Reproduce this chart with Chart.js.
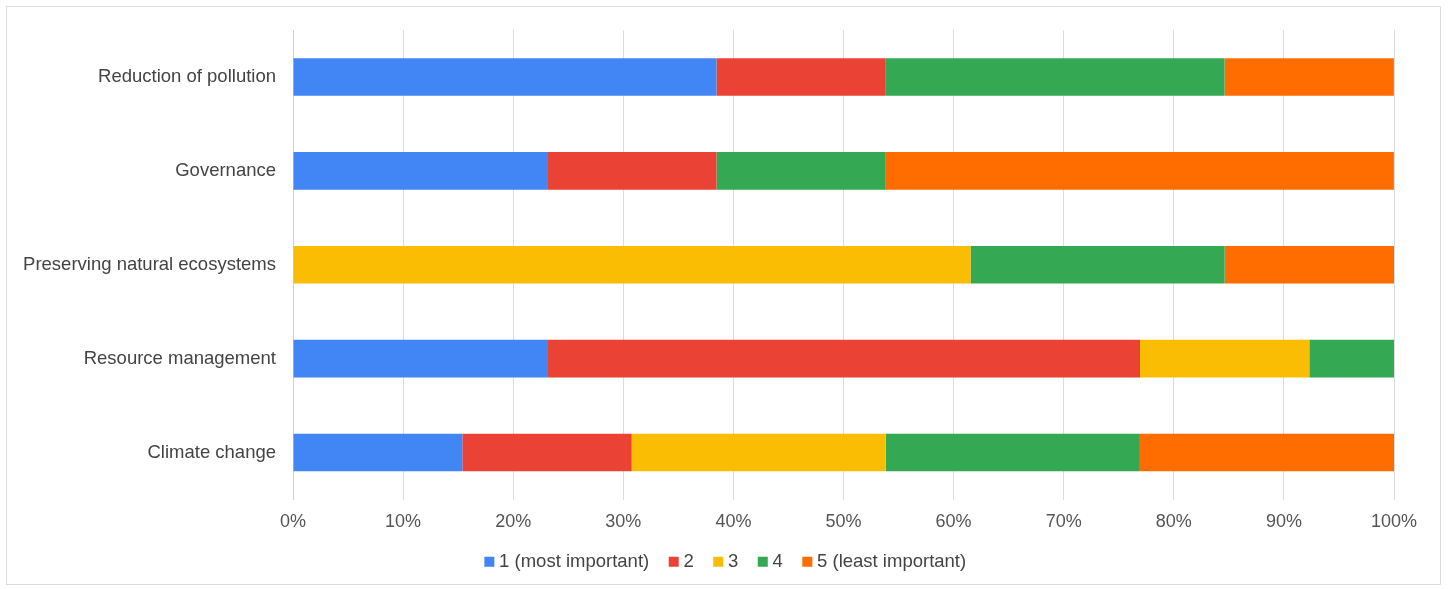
<!DOCTYPE html>
<html>
<head>
<meta charset="utf-8">
<script src="https://cdn.jsdelivr.net/npm/chart.js@4"></script>
<style>
  body { margin: 0; background: #ffffff; }
  #wrap {
    position: absolute; left: 6px; top: 6px;
    width: 1433px; height: 577px;
    border: 1px solid #dadce0;
    background: #fff;
  }
</style>
</head>
<body>
<div id="wrap"><canvas id="mainChart"></canvas></div>
<script>
// Kategori (urutan dari atas ke bawah)
const categories = ['Reduction of pollution', 'Governance', 'Preserving natural ecosystems', 'Resource management', 'Climate change'];

// Persentase per peringkat
const rank1 = [38.46, 23.08, 0, 23.08, 15.38];
const rank2 = [15.38, 15.38, 0, 53.85, 15.38];
const rank3 = [0, 0, 61.54, 15.38, 23.08];
const rank4 = [30.77, 15.38, 23.08, 7.69, 23.08];
const rank5 = [15.38, 46.15, 15.38, 0, 23.08];

const seriesLabels = ['1 (most important)', '2', '3', '4', '5 (least important)'];
const tickLabels = ['0%', '10%', '20%', '30%', '40%', '50%', '60%', '70%', '80%', '90%', '100%'];

const colors = ['#4285f4', '#ea4335', '#fbbc04', '#34a853', '#ff6d01'];
const allSeries = [rank1, rank2, rank3, rank4, rank5];

const fontFamily = "'Liberation Sans', Arial, sans-serif";
const ctx = document.getElementById('mainChart').getContext('2d');

new Chart(ctx, {
    type: 'bar',
    data: {
        labels: categories,
        datasets: allSeries.map((vals, i) => ({
            label: seriesLabels[i],
            data: vals,
            backgroundColor: colors[i],
            borderWidth: 0,
            barPercentage: 0.4,
            categoryPercentage: 1.0
        }))
    },
    options: {
        indexAxis: 'y',
        responsive: true,
        maintainAspectRatio: false,
        animation: false,
        layout: { padding: { top: 23, right: 0, left: 8, bottom: 3 } },
        plugins: {
            legend: {
                position: 'bottom',
                labels: {
                    usePointStyle: true,
                    pointStyle: 'rect',
                    boxWidth: 1,
                    boxHeight: 10,
                    padding: 24,
                    color: '#444',
                    font: { family: fontFamily, size: 18.5 }
                }
            },
            tooltip: { enabled: false }
        },
        scales: {
            x: {
                stacked: true,
                min: 0,
                max: 100,
                grid: { color: '#dcdcdc', drawTicks: false },
                border: { display: false },
                afterFit: (scale) => { scale.height = 29; },
                ticks: {
                    stepSize: 10,
                    padding: 12,
                    color: '#555',
                    font: { family: fontFamily, size: 18 },
                    callback: (value, idx) => tickLabels[idx]
                }
            },
            y: {
                stacked: true,
                grid: { display: false, drawTicks: false },
                border: { display: true, color: '#d0d0d0' },
                afterFit: (scale) => {
                    scale.width = 278;
                    scale.paddingTop = 0;
                    scale.paddingBottom = 0;
                },
                ticks: {
                    padding: 17,
                    color: '#444',
                    font: { family: fontFamily, size: 18.5 }
                }
            },
            // sumbu kosong di kanan, cuma buat ruang kosong
            yRight: {
                type: 'category',
                position: 'right',
                grid: { display: false, drawTicks: false },
                border: { display: false },
                ticks: { display: false },
                afterFit: (scale) => {
                    scale.width = 46;
                    scale.paddingTop = 0;
                    scale.paddingBottom = 0;
                }
            }
        }
    }
});
</script>
</body>
</html>
